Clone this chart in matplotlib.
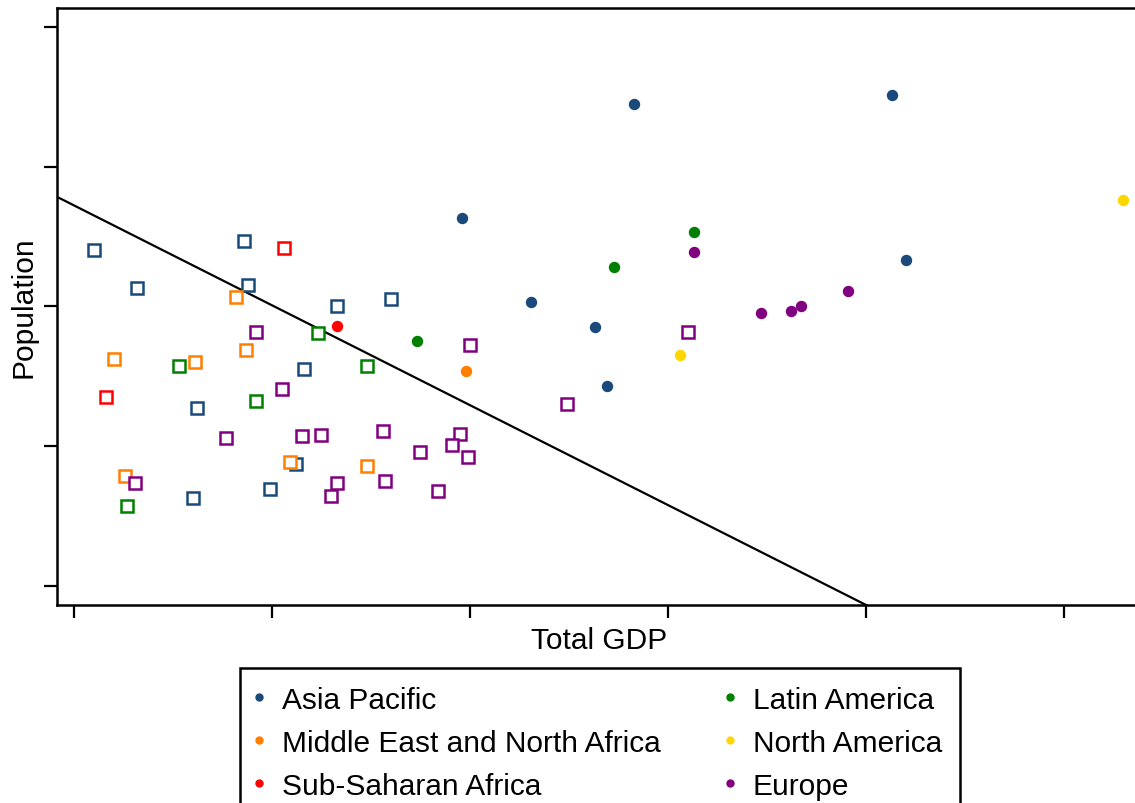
import matplotlib as mpl
import matplotlib.pyplot as plt
from matplotlib.lines import Line2D

mpl.rcParams.update({
    "font.family": ["Liberation Sans", "DejaVu Sans"], "font.size": 21.5,
    "axes.linewidth": 1.8,
})

# region styling
REGIONS = ["Asia Pacific", "Middle East and North Africa", "Sub-Saharan Africa",
           "Latin America", "North America", "Europe"]
COLORS = {"Asia Pacific": "#1a4a7a", "Middle East and North Africa": "#ff7f00",
          "Sub-Saharan Africa": "#ff0000", "Latin America": "#008000",
          "North America": "#ffd700", "Europe": "#800080"}

# filled markers: (gdp, population) by region
ap_gdp_f = [2.83, 4.13, 1.96, 2.31, 2.63, 2.69, 4.20]
ap_pop_f = [3.45, 3.51, 2.63, 2.03, 1.85, 1.43, 2.33]
la_gdp_f = [3.13, 2.73, 1.73]
la_pop_f = [2.53, 2.28, 1.75]
eu_gdp_f = [3.13, 3.47, 3.62, 3.67, 3.91]
eu_pop_f = [2.39, 1.95, 1.97, 2.00, 2.11]
na_gdp_f = [5.30, 3.06]
na_pop_f = [2.76, 1.65]
me_gdp_f = [1.98]
me_pop_f = [1.54]
ss_gdp_f = [1.33]
ss_pop_f = [1.86]

# hollow markers
ap_gdp_h = [0.10, 0.32, 0.86, 0.88, 1.33, 1.60, 1.16, 0.62, 1.12, 0.99, 0.60]
ap_pop_h = [2.40, 2.13, 2.47, 2.15, 2.00, 2.05, 1.55, 1.27, 0.87, 0.69, 0.63]
me_gdp_h = [0.82, 0.87, 0.20, 0.61, 1.09, 1.48, 0.26]
me_pop_h = [2.07, 1.69, 1.62, 1.60, 0.89, 0.86, 0.79]
ss_gdp_h = [1.06, 0.16]
ss_pop_h = [2.42, 1.35]
la_gdp_h = [1.23, 0.53, 1.48, 0.92, 0.27]
la_pop_h = [1.81, 1.57, 1.57, 1.32, 0.57]
eu_gdp_h = [0.92, 1.05, 0.77, 1.15, 1.25, 1.56, 0.31, 1.33, 1.57, 1.30,
            2.00, 3.10, 2.49, 1.95, 1.91, 1.75, 1.99, 1.84]
eu_pop_h = [1.82, 1.41, 1.06, 1.07, 1.08, 1.11, 0.74, 0.74, 0.75, 0.64,
            1.72, 1.82, 1.30, 1.09, 1.01, 0.96, 0.92, 0.68]

filled = {"Asia Pacific": (ap_gdp_f, ap_pop_f), "Latin America": (la_gdp_f, la_pop_f),
          "Europe": (eu_gdp_f, eu_pop_f), "North America": (na_gdp_f, na_pop_f),
          "Middle East and North Africa": (me_gdp_f, me_pop_f),
          "Sub-Saharan Africa": (ss_gdp_f, ss_pop_f)}
hollow = {"Asia Pacific": (ap_gdp_h, ap_pop_h),
          "Middle East and North Africa": (me_gdp_h, me_pop_h),
          "Sub-Saharan Africa": (ss_gdp_h, ss_pop_h),
          "Latin America": (la_gdp_h, la_pop_h), "Europe": (eu_gdp_h, eu_pop_h)}

# dividing line
line_intercept = 2.722
line_slope = -0.7144

x_ticks = [0, 1, 2, 3, 4, 5]
y_ticks = [0, 1, 2, 3, 4]

fig = plt.figure(figsize=(11.35, 8.04), dpi=100)
ax = fig.add_axes([0.0502, 0.2463, 0.955, 0.7425])

for reg, (gx, gy) in hollow.items():
    ax.plot(gx, gy, ls="none", marker="s", ms=8.2, mfc="white",
            mec=COLORS[reg], mew=1.8, zorder=3)
for reg, (gx, gy) in filled.items():
    ax.plot(gx, gy, ls="none", marker="o", ms=7.2, color=COLORS[reg],
            mec=COLORS[reg], zorder=4)

ax.axline((0, line_intercept), slope=line_slope, color="black", lw=1.6, zorder=2)

ax.set_xlim(-0.086, 5.389)
ax.set_ylim(-0.136, 4.134)
ax.set_xticks(x_ticks)
ax.set_yticks(y_ticks)
ax.set_xticklabels([])
ax.set_yticklabels([])
ax.tick_params(length=9.5, width=1.6, direction="out")
ax.spines["right"].set_visible(False)
ax.set_xlabel("Total GDP", labelpad=2)
ax.set_ylabel("Population", labelpad=1)

handles = [Line2D([], [], ls="none", marker="o", ms=5, color=COLORS[r]) for r in REGIONS]
leg = fig.legend(handles, REGIONS, ncol=2, loc="upper center",
                 bbox_to_anchor=(0.5286, 0.168), borderaxespad=0,
                 frameon=True, fancybox=False, edgecolor="black", framealpha=1,
                 handlelength=0.1, handletextpad=0.72, columnspacing=2.25,
                 labelspacing=0.5, borderpad=0.6)
leg.get_frame().set_linewidth(1.8)

fig.savefig("out.png", dpi=100)
